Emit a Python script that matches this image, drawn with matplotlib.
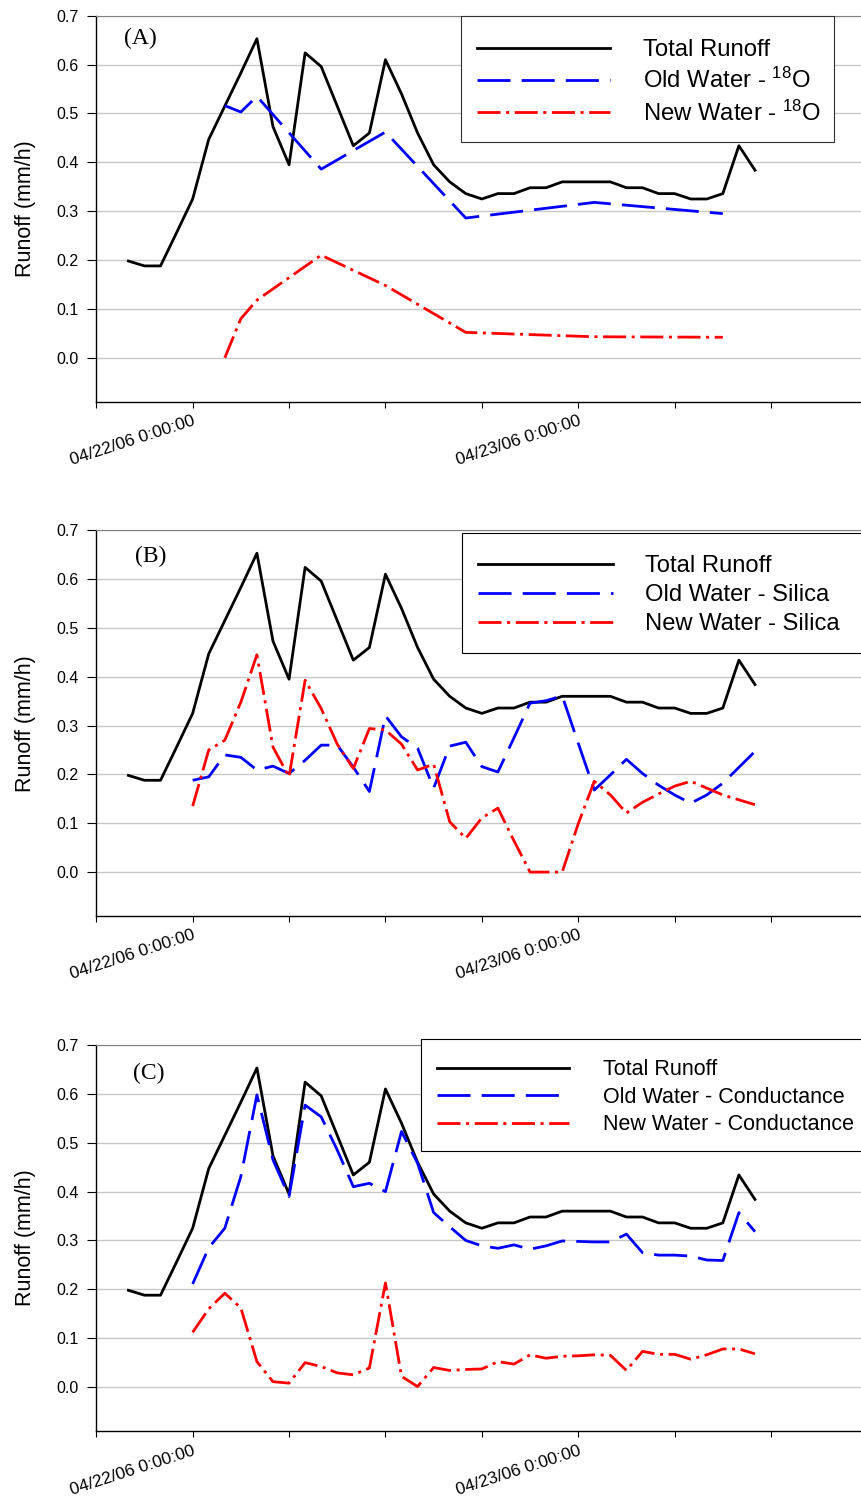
import matplotlib
matplotlib.use("Agg")
import matplotlib.pyplot as plt
import matplotlib.dates as mdates
from matplotlib.patches import Rectangle
from matplotlib.ticker import FuncFormatter, FormatStrFormatter
import pandas as pd

plt.rcParams['font.family'] = ['Liberation Sans', 'DejaVu Sans']
plt.rcParams['mathtext.fontset'] = 'custom'
plt.rcParams['mathtext.rm'] = 'Liberation Sans'

# hourly total runoff, 04/21/06 20:00 to 04/23/06 11:00
t_total = pd.date_range("2006-04-21 20:00", "2006-04-23 11:00", freq="h")
total_runoff = [0.198, 0.188, 0.188, 0.256, 0.325, 0.447, 0.515, 0.583, 0.653, 0.473,
                0.395, 0.624, 0.596, 0.515, 0.434, 0.460, 0.610, 0.540, 0.460, 0.395,
                0.360, 0.336, 0.325, 0.336, 0.336, 0.348, 0.348, 0.360, 0.360, 0.360,
                0.360, 0.348, 0.348, 0.336, 0.336, 0.325, 0.325, 0.336, 0.434, 0.384]

# 18O separation (sparse samples)
t_o18 = pd.to_datetime(["2006-04-22 02:00", "2006-04-22 03:00", "2006-04-22 04:00",
                        "2006-04-22 08:00", "2006-04-22 12:00", "2006-04-22 17:00",
                        "2006-04-23 01:00", "2006-04-23 09:00"])
old_o18 = [0.516, 0.503, 0.535, 0.386, 0.462, 0.286, 0.318, 0.295]
new_o18 = [0.000, 0.080, 0.118, 0.210, 0.148, 0.052, 0.043, 0.042]

# silica separation (no sample at 04/23 10:00)
t_si = list(pd.date_range("2006-04-22 00:00", "2006-04-23 09:00", freq="h")) + \
    [pd.Timestamp("2006-04-23 11:00")]
old_si = [0.188, 0.195, 0.240, 0.235, 0.209, 0.217, 0.202, 0.229, 0.260, 0.260,
          0.215, 0.165, 0.320, 0.277, 0.254, 0.172, 0.258, 0.266, 0.216, 0.205,
          0.275, 0.346, 0.351, 0.361, 0.264, 0.168, 0.199, 0.231, 0.202, 0.178,
          0.158, 0.141, 0.158, 0.182, 0.247]
new_si = [0.135, 0.250, 0.270, 0.348, 0.445, 0.256, 0.195, 0.393, 0.335, 0.262,
          0.212, 0.294, 0.291, 0.262, 0.209, 0.221, 0.103, 0.069, 0.111, 0.131,
          0.064, 0.000, 0.000, 0.000, 0.099, 0.186, 0.158, 0.121, 0.143, 0.160,
          0.176, 0.186, 0.172, 0.158, 0.138]

# conductance separation
t_ec = pd.date_range("2006-04-22 00:00", "2006-04-23 11:00", freq="h")
old_ec = [0.211, 0.285, 0.325, 0.431, 0.598, 0.465, 0.390, 0.577, 0.553, 0.485,
          0.410, 0.417, 0.400, 0.523, 0.458, 0.357, 0.328, 0.300, 0.289, 0.284,
          0.291, 0.282, 0.289, 0.299, 0.298, 0.297, 0.297, 0.313, 0.275, 0.270,
          0.270, 0.268, 0.260, 0.259, 0.357, 0.318]
new_ec = [0.112, 0.160, 0.192, 0.162, 0.052, 0.011, 0.008, 0.050, 0.042, 0.029,
          0.025, 0.039, 0.213, 0.022, 0.001, 0.040, 0.034, 0.036, 0.037, 0.052,
          0.047, 0.066, 0.059, 0.063, 0.064, 0.066, 0.065, 0.034, 0.073, 0.067,
          0.067, 0.057, 0.066, 0.078, 0.078, 0.068]

panels = [
    ("(A)", t_o18, old_o18, new_o18,
     "Old Water - $\\mathregular{^{18}}$O", "New Water - $\\mathregular{^{18}}$O"),
    ("(B)", t_si, old_si, new_si, "Old Water - Silica", "New Water - Silica"),
    ("(C)", t_ec, old_ec, new_ec, "Old Water - Conductance", "New Water - Conductance"),
]

# axes boxes in figure fraction
boxes = [[0.1118, 0.7318, 0.8882, 0.2577],
         [0.1118, 0.3885, 0.8882, 0.2575],
         [0.1118, 0.0447, 0.8882, 0.2577]]
label_pos = [(0.0575, 0.9415), (0.0715, 0.9316), (0.0692, 0.9256)]
# legend entries (frameless) and the box drawn round them, in axes fraction
leg_opts = [dict(anchor=(0.4765, 0.9813), size=17.2, hl=5.57, htp=1.39, bp=0.67, ls=0.30,
                 frame=(0.4765, 0.6736, 0.4886, 0.3256), ec="#303030"),
            dict(anchor=(0.4787, 0.9774), size=17.1, hl=5.67, htp=1.33, bp=0.67, ls=0.30,
                 frame=(0.4786, 0.6811, 0.6, 0.3111), ec="black"),
            dict(anchor=(0.4242, 1.006), size=15.5, hl=6.14, htp=1.54, bp=0.77, ls=0.30,
                 frame=(0.4242, 0.7254, 0.7, 0.2894), ec="black")]

x_start = pd.Timestamp("2006-04-21 18:00")
x_end = x_start + pd.Timedelta(hours=47.6)

LW = 2.0
DASH = (0, (11.9, 4.0))
DASHDOT = (0, (8.3, 2.0, 1.1, 2.0))


def fmt_date(x, pos):
    d = mdates.num2date(x)
    if d.hour != 0:
        return ""
    return "{:%m/%d/%y} {}:{:%M:%S}".format(d, d.hour, d)


fig = plt.figure(figsize=(8.61, 14.98), dpi=100)

for i, (tag, t_sep, old, new, old_lab, new_lab) in enumerate(panels):
    ax = fig.add_axes(boxes[i])
    ax.plot(t_total, total_runoff, color="black", lw=LW, label="Total Runoff")
    ax.plot(t_sep, old, color="blue", lw=LW, linestyle=DASH, label=old_lab)
    ax.plot(t_sep, new, color="red", lw=LW, linestyle=DASHDOT, label=new_lab)

    ax.set_xlim(x_start, x_end)
    ax.set_ylim(-0.09, 0.7)
    ax.set_yticks([k / 10 for k in range(8)])
    ax.yaxis.set_major_formatter(FormatStrFormatter("%.1f"))
    ax.xaxis.set_major_locator(mdates.HourLocator(byhour=[0, 6, 12, 18]))
    ax.xaxis.set_major_formatter(FuncFormatter(fmt_date))

    ax.set_axisbelow(True)
    ax.grid(axis="y", color="#c8c8c8", lw=1.0)
    ax.spines["right"].set_visible(False)
    ax.spines["top"].set_color("#808080")
    ax.spines["left"].set_linewidth(1.0)
    ax.spines["bottom"].set_linewidth(1.0)
    ax.tick_params(axis="y", length=6.5, width=0.8, pad=6, labelsize=11.5)
    ax.tick_params(axis="x", length=4.5, width=0.8, pad=4, labelsize=12.5, labelrotation=18)
    for lab in ax.get_xticklabels():
        lab.set_ha("right")
        lab.set_rotation_mode("anchor")

    ax.set_ylabel("Runoff (mm/h)", fontsize=15.5)
    ax.yaxis.set_label_coords(-0.092, 0.5)
    ax.yaxis.label.set_va("center")

    ax.text(label_pos[i][0], label_pos[i][1], tag, transform=ax.transAxes,
            ha="center", va="center", fontsize=17, family="Liberation Serif")

    o = leg_opts[i]
    fx, fy, fw, fh = o["frame"]
    ax.add_patch(Rectangle((fx, fy), fw, fh, transform=ax.transAxes, facecolor="white",
                           edgecolor=o["ec"], lw=0.8, zorder=4.5, clip_on=False))
    ax.legend(loc="upper left", bbox_to_anchor=o["anchor"], borderaxespad=0,
              fontsize=o["size"], handlelength=o["hl"], handletextpad=o["htp"],
              borderpad=o["bp"], labelspacing=o["ls"], frameon=False)

fig.savefig("out.png", dpi=100)
